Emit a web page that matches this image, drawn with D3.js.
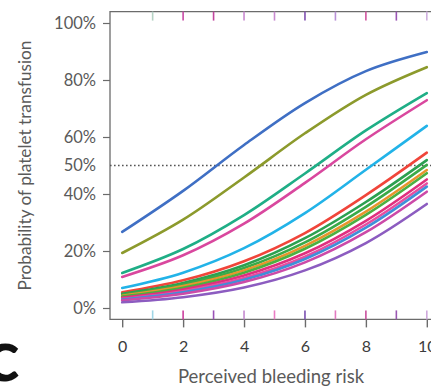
<!DOCTYPE html>
<html>
<head>
<meta charset="utf-8">
<script src="https://cdn.jsdelivr.net/npm/d3@7"></script>
<style>
  html, body { margin: 0; padding: 0; background: #fff; overflow: hidden; }
  svg { display: block; }
  text { font-family: Lato, "Open Sans", sans-serif; }
</style>
</head>
<body>
<svg id="chart" width="431" height="389"></svg>
<script>
// Perceived bleeding risk (0-10) at which predicted probabilities are listed
const riskLevels = [0, 2, 4, 6, 8, 10];

// Predicted probability of platelet transfusion (%) per respondent curve
const seriesNames = ["r1", "r2", "r3", "r4", "r5", "r6", "r7", "r8", "r9", "r10", "r11", "r12", "r13", "r14", "r15"];
const seriesColors = ["#3f6fc4", "#8c9a2c", "#1fae86", "#d9479e", "#22b3e8",
                      "#f0453a", "#2ca050", "#3aaa48", "#e8952c", "#4bb040",
                      "#e02f7e", "#e84da0", "#3f8fd8", "#cc4aa8", "#8c5cc0"];
const seriesValues = [
  [26.7, 41.1, 57.2, 71.9, 83.1, 89.8],
  [19.3, 31.0, 45.8, 61.3, 74.8, 84.5],
  [12.3, 20.7, 32.6, 47.2, 62.3, 75.4],
  [10.9, 18.5, 29.6, 43.9, 59.2, 72.9],
  [7.0, 12.4, 21.0, 33.3, 48.5, 63.9],
  [5.5, 9.7, 16.4, 26.3, 39.6, 54.5],
  [5.0, 8.8, 15.0, 24.5, 37.2, 51.9],
  [4.6, 8.2, 14.0, 23.0, 35.5, 50.2],
  [4.3, 7.7, 13.2, 21.8, 33.8, 48.4],
  [4.0, 7.1, 12.4, 20.8, 32.7, 47.3],
  [3.6, 6.5, 11.4, 19.2, 30.6, 45.1],
  [3.2, 5.9, 10.5, 18.0, 29.3, 43.7],
  [3.0, 5.5, 9.9, 17.2, 28.2, 42.6],
  [2.7, 5.0, 9.1, 16.0, 26.6, 40.8],
  [2.0, 3.8, 7.2, 13.2, 22.8, 36.5]
];

// Observed rating positions shown as rug marks (bottom and top)
const rugBottomX = [1, 2, 3, 4, 5, 6, 7, 8, 9, 10];
const rugBottomColors = ["#9fd6e6", "#cc3f9e", "#9a52b6", "#c58acf", "#ea7cc4",
                         "#7a4fb0", "#e27ac0", "#c9509e", "#9a58b2", "#cfa8dc"];
const rugTopX = [1, 2, 3, 4, 5, 6, 7, 8, 9, 10];
const rugTopColors = ["#b5d2c4", "#c94aa6", "#c2459e", "#c98ad0", "#c88ad0",
                      "#8050b0", "#b890d6", "#d0559f", "#9a55b4", "#cfb0de"];

// Axis ticks
const xTicks = [0, 2, 4, 6, 8, 10];
const yTicks = [0, 20, 40, 50, 60, 80, 100];
const refLevel = 50;

const svg = d3.select("#chart");

const x = d3.scaleLinear().domain([-0.4, 10.4]).range([110, 439]);
const y = d3.scaleLinear().domain([-4, 104]).range([319.4, 11.6]);

const axisColor = "#6b6b6b";
const labelColor = "#5a5a5a";

// Plot frame (left, top, bottom)
const [x0, x1] = x.range();
const [yb, yt] = y.range();
svg.append("path")
  .attr("d", `M${x1},${yt}H${x0}V${yb}H${x1}`)
  .attr("fill", "none")
  .attr("stroke", axisColor)
  .attr("stroke-width", 1.3);

// Y axis
const yAxis = svg.append("g")
  .attr("transform", `translate(${x0},0)`)
  .call(d3.axisLeft(y).tickValues(yTicks).tickSize(7).tickPadding(7)
    .tickFormat(d => d + "%"));
yAxis.select(".domain").remove();
yAxis.selectAll("line").attr("stroke", axisColor).attr("stroke-width", 1.2);
yAxis.selectAll("text").attr("fill", labelColor).attr("font-size", 16.5)
  .attr("font-family", "Lato, 'Open Sans', sans-serif");
// the 50% reference label carries no tick mark
yAxis.selectAll(".tick").filter(d => d === refLevel).select("line").remove();

// X axis
const xAxis = svg.append("g")
  .attr("transform", `translate(0,${yb})`)
  .call(d3.axisBottom(x).tickValues(xTicks).tickSize(8).tickPadding(13)
    .tickFormat(d3.format("d")));
xAxis.select(".domain").remove();
xAxis.selectAll("line").attr("stroke", axisColor).attr("stroke-width", 1.4);
xAxis.selectAll("text").attr("fill", "#3c3c3c").attr("font-size", 16)
  .attr("font-family", "Lato, 'Open Sans', sans-serif");

// Rug marks
svg.append("g").selectAll("line")
  .data(rugBottomX)
  .join("line")
  .attr("x1", d => x(d)).attr("x2", d => x(d))
  .attr("y1", yb - 9).attr("y2", yb)
  .attr("stroke", (d, i) => rugBottomColors[i])
  .attr("stroke-width", 1.6);
svg.append("g").selectAll("line")
  .data(rugTopX)
  .join("line")
  .attr("x1", d => x(d)).attr("x2", d => x(d))
  .attr("y1", yt).attr("y2", yt + 9)
  .attr("stroke", (d, i) => rugTopColors[i])
  .attr("stroke-width", 1.6);

// 50% reference line
svg.append("line")
  .attr("x1", x0).attr("x2", x1)
  .attr("y1", y(refLevel)).attr("y2", y(refLevel))
  .attr("stroke", "#555")
  .attr("stroke-width", 1.4)
  .attr("stroke-dasharray", "1.6,2.4");

// Logistic curves
const line = d3.line()
  .x((d, i) => x(riskLevels[i]))
  .y(d => y(d))
  .curve(d3.curveCatmullRom.alpha(0.5));

svg.append("g").selectAll("path")
  .data(seriesValues)
  .join("path")
  .attr("d", d => line(d))
  .attr("fill", "none")
  .attr("stroke", (d, i) => seriesColors[i])
  .attr("stroke-width", 2.6)
  .attr("stroke-linecap", "round")
  .attr("data-name", (d, i) => seriesNames[i]);

// Axis titles
svg.append("text")
  .attr("x", 271)
  .attr("y", 383)
  .attr("text-anchor", "middle")
  .attr("fill", labelColor)
  .attr("font-size", 18.5)
  .text("Perceived bleeding risk");

svg.append("text")
  .attr("transform", `translate(31,${y(50)}) rotate(-90)`)
  .attr("text-anchor", "middle")
  .attr("fill", labelColor)
  .attr("font-size", 17.2)
  .text("Probability of platelet transfusion");

// Panel letter
svg.append("text")
  .attr("x", -15)
  .attr("y", 381)
  .attr("font-size", 72)
  .attr("font-weight", "bold")
  .attr("font-family", "'DejaVu Sans', sans-serif")
  .attr("fill", "#111")
  .text("c");
</script>
</body>
</html>
